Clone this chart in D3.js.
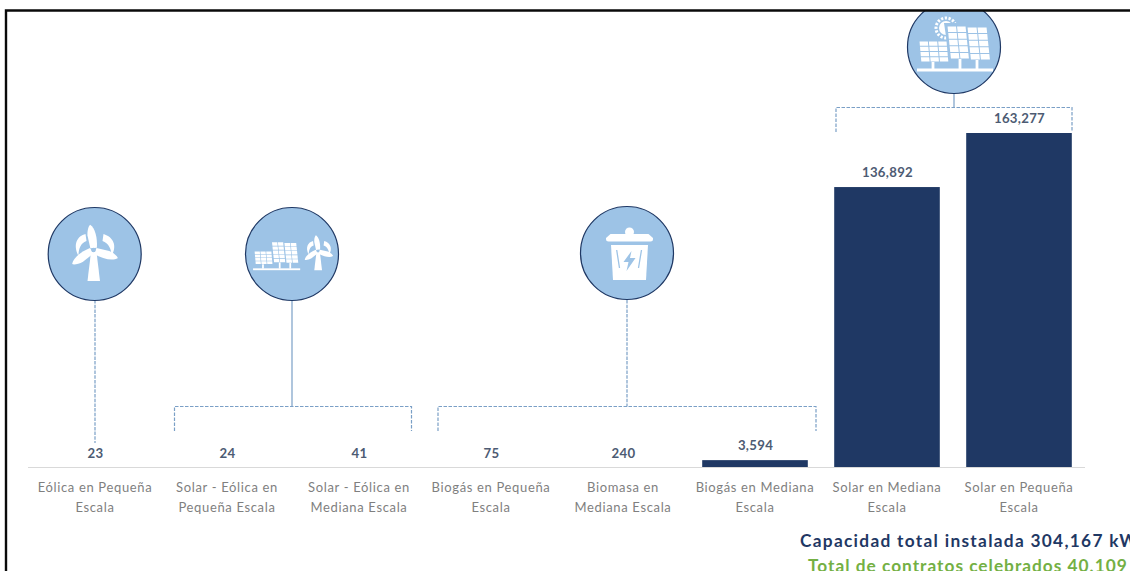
<!DOCTYPE html>
<html lang="es">
<head>
<meta charset="utf-8">
<script src="https://cdn.jsdelivr.net/npm/d3@7/dist/d3.min.js"></script>
<style>
html,body{margin:0;padding:0;background:#fff;overflow:hidden}
svg{display:block}
text{font-family:Lato,"Open Sans",sans-serif}
</style>
</head>
<body>
<svg id="chart" width="1130" height="571"></svg>
<script>
// Capacidad instalada por tecnología (kW)
const categories = [
  "Eólica en Pequeña Escala",
  "Solar - Eólica en Pequeña Escala",
  "Solar - Eólica en Mediana Escala",
  "Biogás en Pequeña Escala",
  "Biomasa en Mediana Escala",
  "Biogás en Mediana Escala",
  "Solar en Mediana Escala",
  "Solar en Pequeña Escala"
];
const capacity = [23, 24, 41, 75, 240, 3594, 136892, 163277];
const categoryLines = [
  ["Eólica en Pequeña", "Escala"],
  ["Solar - Eólica en", "Pequeña Escala"],
  ["Solar - Eólica en", "Mediana Escala"],
  ["Biogás en Pequeña", "Escala"],
  ["Biomasa en", "Mediana Escala"],
  ["Biogás en Mediana", "Escala"],
  ["Solar en Mediana", "Escala"],
  ["Solar en Pequeña", "Escala"]
];
const totalCapacity = "Capacidad total instalada 304,167 kW";
const totalContracts = "Total de contratos celebrados 40,109";

const NAVY = "#1f3864", SKY = "#9dc3e6", LINK = "#7a9fc6";
const svg = d3.select("#chart");

const x = d3.scaleBand().domain(categories).range([29, 1085]).paddingInner(0.2).paddingOuter(0.1);
const y = d3.scaleLinear().domain([0, 163277]).range([467.5, 133]);

// Barras
svg.append("g").selectAll("rect").data(categories).join("rect")
  .attr("x", d => x(d)).attr("width", x.bandwidth())
  .attr("y", (d, i) => y(capacity[i]))
  .attr("height", (d, i) => y(0) - y(capacity[i]))
  .attr("fill", NAVY);

// Línea base, por encima de las barras mínimas
svg.append("line").attr("x1", 28).attr("x2", 1085).attr("y1", 467.5).attr("y2", 467.5)
  .attr("stroke", "#d9d9d9").attr("stroke-width", 1);

// Etiquetas de valor
const fmt = d3.format(",");
svg.append("g").selectAll("text").data(categories).join("text")
  .attr("x", d => x(d) + x.bandwidth() / 2 + 0.5)
  .attr("y", (d, i) => y(capacity[i]) - 10 + (i < 5 ? 1 : 0))
  .attr("text-anchor", "middle").attr("font-size", 13.2).attr("font-weight", 700)
  .attr("letter-spacing", 0.3).attr("fill", "#4d5b73")
  .text((d, i) => fmt(capacity[i]));

// Etiquetas de categoría en dos renglones
const catLabels = svg.append("g").selectAll("text").data(categories).join("text")
  .attr("text-anchor", "middle").attr("font-size", 13).attr("letter-spacing", 0.65).attr("fill", "#7f7f7f");
catLabels.each(function (d, i) {
  const t = d3.select(this), cx = x(d) + x.bandwidth() / 2;
  categoryLines[i].forEach((line, k) => {
    t.append("tspan").attr("x", cx).attr("y", 492 + k * 19.5).text(line);
  });
});

// Conectores: línea vertical desde cada icono y corchete punteado de grupo
function connector(cx, top, bracket, solidStem) {
  const g = svg.append("g").attr("fill", "none").attr("stroke", LINK).attr("stroke-width", 1.2);
  const stem = g.append("line").attr("x1", cx).attr("x2", cx).attr("y1", top)
    .attr("y2", bracket ? bracket.y : 443);
  if (!solidStem) stem.attr("stroke-dasharray", "3.5 1.2");
  if (bracket) {
    g.append("path").attr("stroke-dasharray", "3.5 1.5").attr("d",
      `M${bracket.x0},${bracket.bottom}V${bracket.y}H${bracket.x1}V${bracket.bottom}`);
  }
}
connector(95, 300);
connector(292, 300, { x0: 174.5, x1: 411.5, y: 406.5, bottom: 431 }, true);
connector(627, 300, { x0: 438, x1: 816, y: 406.5, bottom: 431 });
connector(954, 94, { x0: 836, x1: 1072, y: 107.5, bottom: 132 }, true);

// Pictogramas en blanco
function turbine(g, cx, cy, s) {
  const t = g.append("g").attr("transform", `translate(${cx},${cy}) scale(${s})`).attr("fill", "#fff");
  // Flechas curvas de giro
  t.append("path").attr("d", "M-8,-16 C-16,-14 -21,-6 -15,6 C-15,-1 -13,-7 -7,-9Z");
  t.append("path").attr("d", "M10,-16 C20,-13 24,-4 18,6 C18,-1 15,-7 9,-9Z");
  // Torre y aspas
  t.append("path").attr("d", "M-2.5,2 L-6,31 H6.5 L3,2Z");
  [-4, 112, 240].forEach(a => {
    t.append("path").attr("transform", `rotate(${a})`)
      .attr("d", "M-3,-2 L-5,-15 C-5,-20 -3,-25 -1.5,-25.5 C3,-22 5,-12 3.5,-2Z");
  });
  t.append("circle").attr("r", 2.2).attr("fill", SKY);
}
function panel(g, px, py, w, h, lean, cols, rows) {
  const p = g.append("g").attr("transform", `translate(${px},${py}) skewX(${lean})`);
  p.append("g").selectAll("rect").data(d3.cross(d3.range(cols), d3.range(rows))).join("rect")
    .attr("x", d => d[0] * w / cols + 0.5).attr("y", d => d[1] * h / rows + 0.5)
    .attr("width", w / cols - 1).attr("height", h / rows - 1).attr("fill", "#fff");
}
function solarArray(g, cx, cy, s, withSun) {
  const a = g.append("g").attr("transform", `translate(${cx},${cy}) scale(${s})`);
  if (withSun) {
    // Sol detrás de los paneles
    a.append("circle").attr("cx", -8).attr("cy", -19).attr("r", 7).attr("fill", "#fff");
    a.append("circle").attr("cx", -8).attr("cy", -19).attr("r", 10).attr("fill", "none")
      .attr("stroke", "#fff").attr("stroke-width", 3).attr("stroke-dasharray", "2.2 1.6");
    a.append("path").attr("fill", SKY).attr("d", "M-10,-24 L30,-24 L38,16 L-4,16Z");
  }
  a.append("rect").attr("x", -37).attr("y", 21.5).attr("width", 76).attr("height", 3).attr("fill", "#fff");
  panel(a, -35, -6, 28, 21, 5, 3, 4);
  panel(a, -7, -21, 19, 33, 6, 2, 5);
  panel(a, 13, -20, 20, 33, 6, 2, 5);
  [[-21, 15, 7], [6, 12, 10], [23, 13, 9]].forEach(([sx, sy, sh]) => {
    a.append("rect").attr("x", sx - 1.4).attr("y", sy).attr("width", 2.8).attr("height", sh).attr("fill", "#fff");
  });
}
function bin(g, cx, cy) {
  const b = g.append("g").attr("transform", `translate(${cx},${cy})`).attr("fill", "#fff");
  b.append("circle").attr("cx", 0).attr("cy", -21).attr("r", 4.5);
  b.append("path").attr("d", "M-19,-19 H19 L23.5,-15 V-14 Q23.5,-11.5 21,-11.5 H-21 Q-23.5,-11.5 -23.5,-14 V-15Z");
  b.append("path").attr("d", "M-18.5,-8 H18.5 L16.5,27 H-16.5Z");
  b.append("path").attr("fill", "none").attr("stroke", SKY).attr("stroke-width", 1.3)
    .attr("d", "M-12.8,-3 L-10,15 M12,-3 L9,15");
  b.append("path").attr("fill", SKY).attr("d", "M2,-2 L-6,9 H-1 L-3,18 L6,5 H0.5Z");
}

// Círculos con pictograma, recortados por el marco superior
svg.append("clipPath").attr("id", "inside").append("rect")
  .attr("x", 7).attr("y", 11).attr("width", 1123).attr("height", 560);
const icons = svg.append("g").attr("clip-path", "url(#inside)");
function badge(cx, cy) {
  const g = icons.append("g");
  g.append("circle").attr("cx", cx).attr("cy", cy).attr("r", 46.5)
    .attr("fill", SKY).attr("stroke", NAVY).attr("stroke-width", 1.2);
  return g;
}
turbine(badge(94.7, 254), 93.5, 250, 1);
const mixed = badge(292, 254);
solarArray(mixed, 276, 255, 0.62, false);
turbine(mixed, 318, 251, 0.62);
bin(badge(627, 253), 629.5, 253);
solarArray(badge(954, 47), 954, 47, 1, true);

// Totales
svg.append("text").attr("x", 800).attr("y", 547).attr("font-size", 17.3).attr("font-weight", 700)
  .attr("letter-spacing", 1.3).attr("fill", NAVY).text(totalCapacity);
svg.append("text").attr("x", 808).attr("y", 572).attr("font-size", 17.3).attr("font-weight", 700)
  .attr("letter-spacing", 1).attr("fill", "#74b044").text(totalContracts);

// Marco
svg.append("path").attr("d", "M6,571V10.5H1130").attr("fill", "none").attr("stroke", "#0a0a0a").attr("stroke-width", 2.4);
</script>
</body>
</html>
